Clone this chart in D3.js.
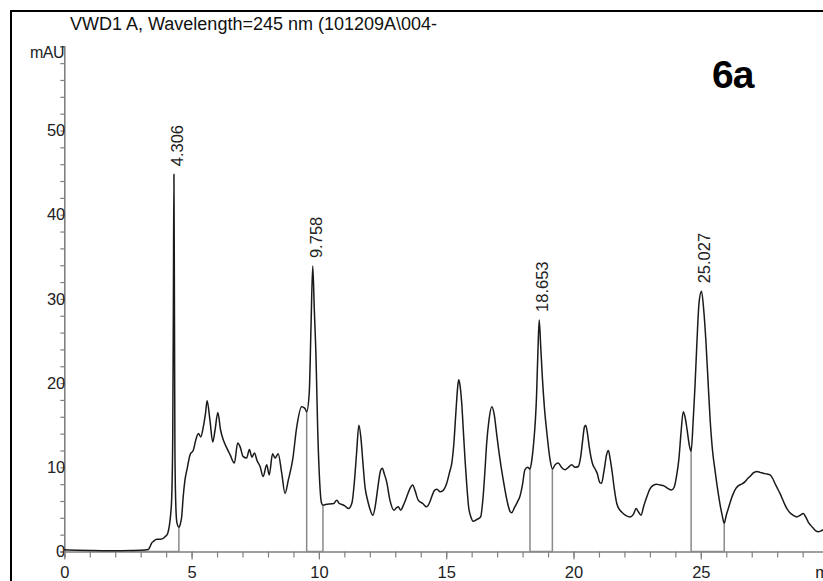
<!DOCTYPE html>
<html>
<head>
<meta charset="utf-8">
<script src="https://cdn.jsdelivr.net/npm/d3@7"></script>
<style>
  html, body { margin: 0; padding: 0; background: #fff; }
  svg { display: block; font-family: "Liberation Sans", Arial, sans-serif; }
</style>
</head>
<body>
<svg id="chart" width="823" height="581"></svg>
<script>
// Retention time (min) of each trace sample
const times = [
  0, 0.5, 1.0, 1.5, 2.0, 2.6, 3.0, 3.3, 3.37, 3.43, 3.5, 3.63, 3.79, 3.96, 4.06, 4.12, 4.18, 4.22, 4.26, 4.285,
  4.306, 4.325, 4.345, 4.38, 4.42, 4.50, 4.56, 4.61, 4.67, 4.74, 4.83, 4.94, 5.07, 5.16, 5.27, 5.36, 5.46, 5.55, 5.61, 5.72,
  5.83, 5.92, 6.03, 6.14, 6.25, 6.38, 6.51, 6.68, 6.81, 6.91, 7.02, 7.16, 7.27, 7.37, 7.47, 7.57, 7.69, 7.81, 7.95, 8.05,
  8.18, 8.28, 8.40, 8.54, 8.67, 8.80, 8.97, 9.13, 9.32, 9.45, 9.52, 9.62, 9.69, 9.758, 9.82, 9.89, 9.95, 10.02, 10.10, 10.16,
  10.30, 10.44, 10.58, 10.70, 10.80, 10.89, 11.03, 11.16, 11.30, 11.40, 11.48, 11.57, 11.65, 11.73, 11.81, 11.92, 12.01, 12.12, 12.22, 12.31,
  12.42, 12.49, 12.57, 12.66, 12.79, 12.95, 13.05, 13.12, 13.21, 13.32, 13.45, 13.58, 13.68, 13.78, 13.90, 14.08, 14.23, 14.33, 14.43, 14.55,
  14.64, 14.76, 14.86, 15.02, 15.14, 15.22, 15.30, 15.38, 15.45, 15.49, 15.54, 15.61, 15.68, 15.74, 15.81, 15.88, 15.97, 16.06, 16.20, 16.35,
  16.45, 16.52, 16.59, 16.68, 16.79, 16.89, 16.98, 17.10, 17.24, 17.40, 17.50, 17.57, 17.68, 17.80, 17.90, 18.00, 18.09, 18.20, 18.29, 18.36,
  18.42, 18.55, 18.60, 18.653, 18.71, 18.78, 18.86, 18.95, 19.08, 19.17, 19.28, 19.40, 19.53, 19.67, 19.80, 19.93, 20.06, 20.19, 20.28, 20.36,
  20.43, 20.48, 20.55, 20.62, 20.70, 20.76, 20.85, 20.93, 21.03, 21.10, 21.20, 21.30, 21.37, 21.44, 21.52, 21.60, 21.70, 21.80, 21.89, 22.05,
  22.22, 22.35, 22.46, 22.55, 22.65, 22.76, 22.88, 23.00, 23.10, 23.25, 23.40, 23.55, 23.70, 23.85, 23.95, 24.05, 24.14, 24.22, 24.31, 24.38,
  24.46, 24.55, 24.62, 24.70, 24.77, 24.85, 24.93, 25.027, 25.12, 25.20, 25.28, 25.36, 25.46, 25.56, 25.66, 25.75, 25.84, 25.92, 26.00, 26.08,
  26.18, 26.28, 26.38, 26.47, 26.60, 26.74, 26.85, 26.93, 27.05, 27.20, 27.33, 27.45, 27.60, 27.72, 27.82, 27.91, 28.01, 28.11, 28.21, 28.31,
  28.40, 28.50, 28.63, 28.77, 28.90, 29.03, 29.12, 29.22, 29.32, 29.42, 29.52, 29.62, 29.72, 29.79, 29.90, 30.0
];

// Detector signal (mAU) at each sample
const absorbance = [
  0.2, 0.15, 0.12, 0.1, 0.1, 0.12, 0.15, 0.25, 0.6, 1.0, 1.2, 1.45, 1.45, 1.75, 2.15, 2.95, 4.5, 6.5, 14, 30,
  44.8, 30, 12, 5.5, 3.5, 2.9, 3.3, 4.1, 6.5, 8.5, 9.9, 11.5, 12.05, 13.2, 14.0, 13.6, 14.8, 16.5, 17.9, 15.6,
  13.0, 14.4, 16.5, 14.4, 13.2, 12.3, 11.5, 10.5, 12.9, 12.4, 11.3, 11.1, 12.1, 11.2, 11.7, 10.8, 10.1, 8.9, 10.3, 9.1,
  11.6, 11.1, 11.6, 9.3, 6.9, 8.5, 10.9, 14.8, 17.2, 17.0, 16.6, 18.8, 26.7, 33.9, 28.7, 22.7, 14.8, 8.9, 5.8, 5.5,
  5.6, 5.65, 5.7, 6.1, 5.7, 5.6, 5.4, 5.1, 5.8, 8.5, 11.7, 15.0, 13.5, 10.5, 7.7, 6.0, 5.0, 4.3, 5.5, 7.5,
  9.6, 9.9, 9.2, 8.3, 6.1, 4.9, 5.2, 5.3, 4.9, 5.5, 6.5, 7.5, 7.9, 7.2, 6.1, 5.7, 5.3, 5.7, 6.5, 7.3,
  7.4, 7.1, 7.2, 8.1, 9.5, 10.5, 12.8, 16.5, 19.5, 20.4, 19.8, 17.6, 14.0, 10.9, 7.8, 5.3, 4.1, 3.6, 3.8, 4.1,
  6.5, 9.5, 12.85, 15.6, 17.2, 16.2, 14.0, 11.2, 8.5, 5.9, 4.8, 4.6, 5.2, 5.9, 6.6, 8.0, 9.7, 10.0, 9.8, 10.8,
  12.4, 18.6, 23.5, 27.5, 24.5, 20.5, 17.0, 14.2, 10.9, 9.8, 10.3, 10.5, 10.0, 9.7, 10.0, 10.3, 10.0, 10.1, 11.2, 13.2,
  14.8, 15.0, 14.0, 12.4, 11.0, 10.3, 9.8, 9.3, 8.2, 8.1, 9.6, 11.5, 12.0, 11.0, 9.4, 7.5, 5.7, 5.0, 4.7, 4.3,
  4.1, 4.4, 5.1, 4.7, 4.3, 5.4, 6.5, 7.4, 7.8, 8.0, 7.9, 7.8, 7.5, 7.3, 7.6, 9.0, 11.0, 14.0, 16.6, 16.0,
  14.5, 12.6, 11.9, 15.5, 19.5, 25.0, 29.5, 30.9, 28.5, 25.0, 20.5, 16.0, 12.0, 9.6, 7.4, 5.7, 4.3, 3.35, 4.3, 5.1,
  6.1, 6.9, 7.5, 7.8, 8.0, 8.3, 8.7, 8.9, 9.3, 9.5, 9.4, 9.3, 9.2, 9.1, 8.7, 8.1, 7.5, 6.9, 6.2, 5.5,
  5.0, 4.6, 4.3, 4.1, 4.3, 4.5, 4.1, 3.5, 3.1, 2.75, 2.45, 2.35, 2.45, 2.55, 2.6, 2.6
];

// Labelled peaks and their integration limits (min)
const peakTimes  = [4.306, 9.758, 18.653, 25.027];
const peakStarts = [2.6, 9.52, 18.29, 24.62];
const peakEnds   = [4.50, 10.16, 19.17, 25.92];

// Axis ticks
const xMajorTicks = [0, 5, 10, 15, 20, 25, 30];
const xTickLabels = ["0", "5", "10", "15", "20", "25", "min"];
const yMajorTicks = [0, 10, 20, 30, 40, 50];
const yUnit = "mAU";
const title = "VWD1 A, Wavelength=245 nm (101209A\\004-";
const panelTag = "6a";

const svg = d3.select("#chart");
const FONT = '"Liberation Sans", Arial, sans-serif';

const x = d3.scaleLinear().domain([0, 30]).range([64.3, 828.1]);
const y = d3.scaleLinear().domain([0, 60]).range([551.5, 46.3]);

const series = times.map((t, i) => ({ t, v: absorbance[i] }));
const valueAt = t => series[times.indexOf(t)].v;

// outer frame (left and top edges)
svg.append("line").attr("x1", 11).attr("x2", 11).attr("y1", 10).attr("y2", 581)
  .attr("stroke", "#000").attr("stroke-width", 2);
svg.append("line").attr("x1", 10).attr("x2", 823).attr("y1", 11).attr("y2", 11)
  .attr("stroke", "#000").attr("stroke-width", 2);

// title
svg.append("text").attr("x", 70).attr("y", 30)
  .attr("font-size", 18).attr("fill", "#111").text(title);

// panel tag
svg.append("text").attr("x", 712).attr("y", 88)
  .attr("font-size", 39).attr("font-weight", "bold").attr("letter-spacing", -1)
  .attr("fill", "#000").text(panelTag);

// y axis
const yAxis = d3.axisLeft(y)
  .tickValues(d3.range(0, 61, 2))
  .tickSize(4)
  .tickPadding(-5)
  .tickFormat(d => yMajorTicks.includes(d) ? String(d) : "");
const gy = svg.append("g").attr("transform", `translate(${x(0)},0)`).call(yAxis);
gy.select(".domain").attr("stroke", "#808080").attr("stroke-width", 1.6);
gy.selectAll(".tick line").attr("stroke", "#808080").attr("stroke-width", 1.2);
gy.selectAll(".tick text").attr("font-family", FONT).attr("font-size", 16.5).attr("fill", "#222");

svg.append("text").attr("x", 64).attr("y", 58).attr("text-anchor", "end")
  .attr("font-size", 16).attr("letter-spacing", -0.5).attr("fill", "#222").text(yUnit);

// x axis: minor ticks every minute, labelled ticks every 5 min
const xMinor = d3.axisBottom(x).tickValues(d3.range(0, 31, 1)).tickSize(6).tickFormat("");
const gxm = svg.append("g").attr("transform", `translate(0,${y(0)})`).call(xMinor);
gxm.select(".domain").attr("stroke", "#808080").attr("stroke-width", 1.6);
gxm.selectAll(".tick line").attr("stroke", "#808080").attr("stroke-width", 1.2);

const xMajor = d3.axisBottom(x).tickValues(xMajorTicks).tickSize(8).tickPadding(7)
  .tickFormat((d, i) => xTickLabels[i]);
const gxM = svg.append("g").attr("transform", `translate(0,${y(0)})`).call(xMajor);
gxM.select(".domain").remove();
gxM.selectAll(".tick line").attr("stroke", "#808080").attr("stroke-width", 1.2);
gxM.selectAll(".tick text").attr("font-family", FONT).attr("font-size", 16.5).attr("fill", "#222");

// integration baselines and peak limits
const marks = svg.append("g").attr("fill", "none").attr("stroke", "#8a8a8a").attr("stroke-width", 1.5);
peakStarts.forEach((s, i) => {
  const e = peakEnds[i];
  const p = d3.path();
  p.moveTo(x(s), y(valueAt(s)));
  p.lineTo(x(s), y(0));
  p.lineTo(x(e), y(0));
  p.lineTo(x(e), y(valueAt(e)));
  marks.append("path").attr("d", p.toString());
});

// chromatogram trace
const line = d3.line().x(d => x(d.t)).y(d => y(d.v)).curve(d3.curveMonotoneX);
svg.append("path").datum(series)
  .attr("d", line)
  .attr("fill", "none")
  .attr("stroke", "#1a1a1a")
  .attr("stroke-width", 1.5)
  .attr("stroke-linejoin", "round");

// retention time labels above each peak
svg.append("g").selectAll("text").data(peakTimes).join("text")
  .attr("transform", t => `translate(${x(t) + 9},${y(valueAt(t)) - 8}) rotate(-90)`)
  .attr("text-anchor", "start")
  .attr("font-size", 16.5)
  .attr("fill", "#222")
  .text(t => t.toFixed(3));
</script>
</body>
</html>
